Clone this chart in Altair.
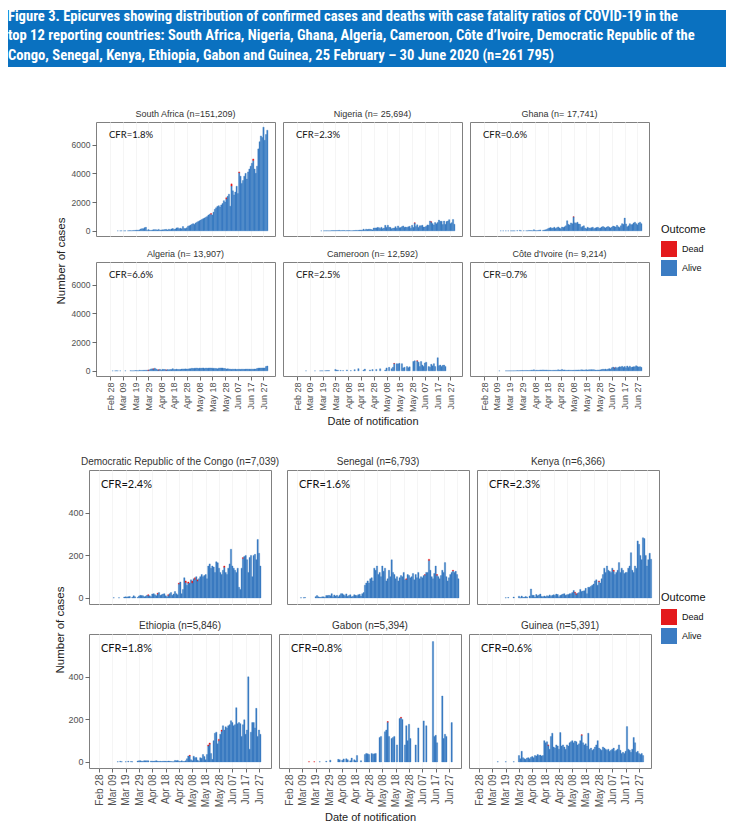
import altair as alt
import pandas as pd

BLUE = "#3b7cc3"
RED = "#e41a1c"
HEAD_BLUE = "#0a71c0"
FONT = "Liberation Sans"
HEAD_FONT = "Liberation Sans Narrow, Arial Narrow, Roboto Condensed, Lato, sans-serif"
CFR_FONT = "Lato"
AXCOL = "#505050"
TKCOL = "#444444"
GRID = "#f5f5f5"

TITLE_LINES = [
    "Figure 3. Epicurves showing distribution of confirmed cases and deaths with case fatality ratios of COVID-19 in the",
    "top 12 reporting countries: South Africa, Nigeria, Ghana, Algeria, Cameroon, Côte d\u2019Ivoire, Democratic Republic of the",
    "Congo, Senegal, Kenya, Ethiopia, Gabon and Guinea, 25 February \u2013 30 June 2020 (n=261 795)",
]

TICK_DATES = ["2020-02-28", "2020-03-09", "2020-03-19", "2020-03-29", "2020-04-08",
              "2020-04-18", "2020-04-28", "2020-05-08", "2020-05-18", "2020-05-28",
              "2020-06-07", "2020-06-17", "2020-06-27"]

OUTCOMES = ["Dead", "Alive"]

# ---------------- daily confirmed cases (total) ----------------
SA_START = "2020-03-05"
SA_CASES = [1, 0, 1, 4, 0, 4, 3, 0, 8, 14, 13,
            11, 23, 30, 34, 52, 38, 66, 128, 152, 150, 218, 243, 17, 87, 47, 26,
            50, 80, 80, 75, 60, 100, 40, 60, 70, 70, 90, 100, 60, 110, 70, 130, 160, 100, 120, 200,
            210, 150, 180, 140, 300, 170, 160, 210, 320, 350,
            400, 450, 500, 450, 550, 600, 650, 700, 750, 800, 850, 900, 950, 1000, 1100, 1150, 1200, 1100, 1300, 1500,
            1600, 1700, 1750, 1650, 1800, 1900, 2100, 2000, 2300, 2400, 2550,
            1716, 3267, 2782, 2500, 2700, 3100, 2594, 4100, 3800, 3300, 3500, 3800, 4000, 3600, 4100, 4300, 4500, 4700, 5000, 4300,
            4000, 4500, 5700, 6200, 6600, 6500, 7210, 6300, 6700, 7000]
SA_DEATHS = {"2020-05-17": 40, "2020-05-29": 80, "2020-06-02": 150, "2020-06-08": 60, "2020-06-19": 100}

NG_START = "2020-03-18"
NG_CASES = [1, 0, 4, 10, 5, 10, 5, 7, 14, 19, 16, 15, 20, 24,
            35, 10, 20, 25, 22, 10, 20, 16, 20, 13, 13, 18, 20, 34, 30, 35, 49, 51, 38, 117,
            48, 117, 91, 108, 114, 87, 64, 195, 196, 204,
            238, 220, 170, 245, 148, 195, 381, 239, 386, 248, 242, 146, 184, 194, 288, 176, 338, 216, 226, 284,
            339, 245, 265, 229, 276, 313, 182, 387, 241, 553, 307,
            416, 241, 350, 348, 389, 260, 260, 315, 409, 389, 681, 627, 501, 403, 573, 490, 587, 745, 661, 667,
            436, 675, 452, 649, 684, 779, 500, 566, 790, 460]
NG_DEATHS = {"2020-05-30": 15, "2020-06-12": 20}

GH_START = "2020-03-12"
GH_CASES = [2, 0, 4, 0, 1, 0, 2, 0, 5, 3, 3, 3, 0, 15, 0, 39, 4, 0, 11, 0,
            10, 5, 30, 20, 15, 10, 80, 20, 10, 20, 40, 60, 0, 30, 50, 70, 100, 150, 190, 230,
            180, 200, 250, 160, 220, 270, 200, 150, 260, 230,
            280, 350, 700, 450, 400, 550, 500, 980, 560, 520, 600, 480, 450, 250, 300, 350, 200, 150, 250, 200,
            180, 220, 250, 150, 200, 230, 250, 180, 200, 260, 300,
            250, 200, 260, 300, 250, 200, 260, 330, 300, 260, 380, 280, 230, 350, 500, 450, 885, 480, 280, 350,
            500, 420, 450, 550, 600, 500, 420, 550, 600, 500]
GH_DEATHS = {"2020-05-08": 10}

DZ_START = "2020-03-01"
DZ_CASES = [1, 0, 2, 7, 5, 0, 5, 0, 0, 0, 4, 0, 0, 0, 11, 6, 6, 12, 22, 15,
            8, 40, 30, 29, 34, 38, 43, 45, 57, 73, 132,
            139, 139, 185, 132, 80, 69, 103, 45, 104, 95, 94, 64, 89, 69, 87, 95, 150, 94, 89, 116,
            93, 99, 97, 120, 129, 123, 134, 122, 126, 139,
            148, 179, 159, 179, 185, 190, 165, 189, 174, 189, 198, 168, 190, 176, 192, 196, 193, 185, 176, 169,
            165, 140, 186, 190, 197, 196, 168, 160, 127, 140, 127,
            113, 104, 117, 107, 118, 98, 105, 109, 102, 111, 112, 102, 117, 119, 116, 117, 114, 117, 116, 125,
            119, 165, 187, 193, 194, 198, 198, 193, 305, 336]
DZ_DEATHS = {"2020-03-29": 20, "2020-04-02": 25, "2020-04-06": 20, "2020-04-12": 15}

CM_START = "2020-03-06"
CM_CASES = [1, 0, 0, 0, 0, 0, 0, 1, 0, 0, 0, 3, 5, 3, 0, 13, 12, 20, 16, 0, 0, 0, 0, 96, 50, 40,
            0, 30, 0, 20, 0, 0, 60, 0, 0, 15, 0, 0, 80, 0, 0, 150, 0, 0, 0, 50,
            120, 0, 0, 0, 60, 0, 90, 0, 0, 100,
            0, 0, 140, 0, 0, 0, 60, 200, 0, 240, 0, 150, 250, 520, 0, 500, 480, 520, 0, 500,
            200, 250, 0, 300, 220, 280, 0, 0, 650, 700, 0,
            700, 600, 300, 650, 400, 300, 550, 600, 0, 300, 250, 450, 350, 500, 300, 0, 910, 350, 400, 300,
            380, 400, 300]
CM_DEATHS = {"2020-05-14": 15, "2020-06-01": 20}

CI_START = "2020-03-11"
CI_CASES = [1, 0, 0, 0, 0, 1, 3, 1, 3, 5, 5, 3, 7, 12, 18, 9, 16, 20, 28, 16, 25,
            25, 22, 22, 29, 43, 43, 72, 26, 43, 36, 35, 54, 50, 64, 52, 48, 54, 41, 41, 35,
            29, 37, 36, 42, 38, 71, 48, 57, 98, 52,
            60, 40, 35, 48, 44, 37, 33, 40, 45, 55, 50, 60, 47, 68, 66, 54, 64, 73, 59, 68,
            71, 80, 73, 74, 52, 41, 59, 56, 68, 88, 111,
            99, 121, 81, 125, 150, 116, 211, 260, 199, 256, 175, 241, 285, 271, 313, 248, 300, 210, 335, 240,
            325, 232, 268, 289, 275, 353, 300, 260, 290, 240]
CI_DEATHS = {"2020-06-09": 5}

CD_START = "2020-03-10"
CD_CASES = [1, 0, 0, 0, 1, 0, 0, 0, 4, 5, 4, 6, 7, 0, 3, 10, 5, 0, 2, 9, 12, 11,
            10, 5, 8, 12, 15, 10, 6, 18, 20, 15, 10, 22, 25, 12, 15, 18, 20, 10, 5, 15,
            20, 25, 12, 18, 30, 20, 15, 70, 75, 20,
            40, 95, 80, 60, 75, 70, 85, 80, 90, 95, 100, 85, 90, 100, 110, 100, 105, 110, 90, 150,
            160, 140, 150, 145, 120, 170, 165, 140, 120, 110, 130,
            150, 120, 110, 140, 160, 229, 150, 140, 130, 120, 140, 50, 40, 140, 190, 195, 200, 180, 120, 190,
            200, 100, 200, 205, 180, 275, 210, 150]
CD_DEATHS = {"2020-04-05": 3, "2020-04-12": 4, "2020-04-20": 3, "2020-04-28": 5, "2020-05-03": 8,
             "2020-05-05": 6, "2020-05-08": 10, "2020-05-10": 8, "2020-05-12": 6, "2020-06-01": 6,
             "2020-06-15": 5}

SN_START = "2020-03-02"
SN_CASES = [1, 0, 1, 2, 0, 0, 0, 0, 0, 0, 0, 6, 11, 5, 3, 3, 5, 5, 2, 11,
            11, 12, 10, 20, 6, 14, 9, 12, 6, 13,
            20, 20, 15, 10, 19, 8, 11, 15, 5, 8, 15, 12, 10, 15, 17, 9, 20, 25, 60, 70,
            80, 70, 90, 95, 80, 140, 130, 150, 110, 120,
            100, 150, 125, 140, 80, 90, 130, 100, 179, 120, 110, 90, 100, 80, 95, 105, 100, 120, 85, 90,
            110, 105, 95, 100, 115, 85, 110, 95, 120, 90, 100,
            95, 105, 110, 120, 120, 182, 130, 100, 90, 115, 150, 110, 100, 90, 105, 130, 120, 166, 100, 80,
            95, 110, 120, 130, 120, 125, 110, 90]
SN_DEATHS = {"2020-05-20": 3, "2020-06-03": 3, "2020-06-06": 6, "2020-06-12": 3, "2020-06-24": 3}

KE_START = "2020-03-13"
KE_CASES = [1, 0, 2, 0, 0, 0, 4, 0, 0, 0, 8, 1, 9, 3, 3, 7, 4, 0, 9,
            42, 13, 12, 4, 16, 10, 14, 18, 7, 5, 9, 6, 10, 8, 14, 8, 12, 15, 11, 18,
            16, 6, 12, 15, 18, 20, 12, 15, 16, 20,
            20, 25, 35, 27, 20, 22, 25, 40, 30, 32, 34, 45, 20, 50, 50, 55, 60, 65, 80, 85,
            60, 80, 70, 90, 110, 140, 120, 150, 130, 125, 120,
            140, 130, 110, 120, 130, 166, 120, 140, 130, 115, 120, 120, 140, 150, 213, 130, 120, 150, 140, 268,
            252, 200, 180, 283, 279, 200, 150, 180, 210, 182]
KE_DEATHS = {"2020-05-04": 3, "2020-05-05": 4, "2020-05-22": 3, "2020-06-02": 4}

ET_START = "2020-03-13"
ET_CASES = [1, 0, 3, 1, 0, 0, 1, 0, 3, 0, 2, 1, 0, 0, 0, 4, 5, 6, 3,
            3, 6, 5, 5, 5, 0, 4, 3, 3, 4, 6, 3, 2, 3, 2, 3, 3, 3, 2, 4,
            3, 2, 1, 1, 7, 6, 7, 3, 2, 5,
            2, 2, 5, 15, 28, 31, 10, 6, 27, 20, 21, 8, 2, 20, 17, 35, 25, 10, 35, 80,
            89, 40, 12, 100, 135, 140, 85, 107, 130, 150, 170,
            150, 165, 160, 170, 175, 194, 185, 170, 175, 255, 180, 185, 180, 120, 175, 198, 130, 150, 400, 60,
            140, 185, 185, 160, 252, 120, 150, 130]
ET_DEATHS = {"2020-05-06": 3, "2020-05-20": 5, "2020-05-21": 6, "2020-05-28": 8, "2020-05-30": 6}

GA_START = "2020-03-12"
GA_CASES = [0, 0, 1, 0, 0, 0, 1, 0, 0, 0, 1, 0, 0, 0, 0, 3, 0, 0, 8, 0,
            0, 0, 0, 0, 12, 10, 0, 8, 14, 0, 15, 10, 0, 5, 18, 0, 10, 5, 30, 0,
            0, 6, 0, 0, 35, 40, 38, 35, 0, 40,
            36, 38, 40, 0, 0, 115, 120, 0, 0, 142, 150, 190, 120, 0, 110, 115, 120, 0, 80, 0,
            204, 210, 200, 0, 80, 170, 100, 177, 110, 0, 0,
            0, 80, 0, 160, 0, 0, 0, 193, 0, 170, 0, 0, 0, 0, 566, 120, 125, 90, 0, 0,
            0, 310, 110, 130, 120, 0, 0, 0, 185, 0]
GA_DEATHS = {"2020-03-14": 1, "2020-03-18": 1, "2020-05-12": 3, "2020-05-22": 3}

GN_START = "2020-03-13"
GN_CASES = [1, 0, 0, 0, 0, 0, 1, 0, 0, 0, 0, 0, 1, 0, 0, 0, 30, 15, 50,
            20, 15, 12, 18, 20, 15, 22, 25, 20, 30, 28, 35, 30, 32, 28, 30, 100, 90, 95, 80,
            60, 120, 135, 70, 65, 80, 75, 60, 138, 75,
            80, 70, 60, 80, 75, 90, 95, 100, 90, 98, 95, 80, 85, 100, 128, 90, 80, 85, 75, 135,
            60, 65, 55, 60, 70, 80, 100, 65, 60, 55, 70,
            65, 60, 55, 60, 50, 55, 60, 65, 50, 55, 60, 80, 55, 40, 45, 40, 50, 166, 60, 55,
            45, 60, 115, 90, 45, 50, 40, 35, 40, 30]
GN_DEATHS = {"2020-04-20": 2, "2020-05-15": 2}

TOP_TITLES = ["South Africa (n=151,209)", "Nigeria (n= 25,694)", "Ghana (n= 17,741)",
              "Algeria (n= 13,907)", "Cameroon (n= 12,592)", "Côte d'Ivoire (n=  9,214)"]
TOP_CFR = ["CFR=1.8%", "CFR=2.3%", "CFR=0.6%", "CFR=6.6%", "CFR=2.5%", "CFR=0.7%"]
BOT_TITLES = ["Democratic Republic of the Congo (n=7,039)", "Senegal (n=6,793)", "Kenya (n=6,366)",
              "Ethiopia (n=5,846)", "Gabon (n=5,394)", "Guinea (n=5,391)"]
BOT_CFR = ["CFR=2.4%", "CFR=1.6%", "CFR=2.3%", "CFR=1.8%", "CFR=0.8%", "CFR=0.6%"]

TOP_SERIES = [(SA_START, SA_CASES, SA_DEATHS), (NG_START, NG_CASES, NG_DEATHS), (GH_START, GH_CASES, GH_DEATHS),
              (DZ_START, DZ_CASES, DZ_DEATHS), (CM_START, CM_CASES, CM_DEATHS), (CI_START, CI_CASES, CI_DEATHS)]
BOT_SERIES = [(CD_START, CD_CASES, CD_DEATHS), (SN_START, SN_CASES, SN_DEATHS), (KE_START, KE_CASES, KE_DEATHS),
              (ET_START, ET_CASES, ET_DEATHS), (GA_START, GA_CASES, GA_DEATHS), (GN_START, GN_CASES, GN_DEATHS)]


def ms(s):
    return int(pd.Timestamp(s).value // 10**6)


TICK_MS = [ms(d + "T12:00") for d in TICK_DATES]
LABEL_EXPR = "utcFormat(datum.value, '%b %d')"


def build(start, cases, deaths):
    d0 = pd.Timestamp(start)
    rows = []
    for i, v in enumerate(cases):
        day = d0 + pd.Timedelta(days=i)
        ds = day.strftime("%Y-%m-%d")
        dd = deaths.get(ds, 0)
        t0 = ms(day)
        t1 = ms(day + pd.Timedelta(days=1))
        rows.append({"t0": t0, "t1": t1, "Outcome": "Alive", "n": v - dd, "ord": 0})
        rows.append({"t0": t0, "t1": t1, "Outcome": "Dead", "n": dd, "ord": 1})
    return pd.DataFrame(rows)


def panel(series, title, cfr, g, row, col):
    df = build(*series)
    if row == 1:
        xaxis = alt.Axis(values=TICK_MS, labelExpr=LABEL_EXPR, labelAngle=270,
                         labelFontSize=g["xfs"], labelColor=AXCOL, labelFont=FONT,
                         tickColor=TKCOL, tickSize=4, tickWidth=0.8, labelPadding=2,
                         domain=False, grid=True, gridColor=GRID,
                         titleFontSize=11, titleFontWeight="normal", titleColor="#222222",
                         titleFont=FONT, titlePadding=g["xtp"])
    else:
        xaxis = alt.Axis(values=TICK_MS, labels=False, ticks=False, domain=False, grid=True,
                         gridColor=GRID, minExtent=0, maxExtent=0)
    xtitle = "Date of notification" if (row == 1 and col == 1) else None
    x = alt.X("t0:T", title=xtitle,
              scale=alt.Scale(type="utc", domain=g["xdom"], nice=False), axis=xaxis)
    if col == 0:
        yaxis = alt.Axis(values=g["yticks"], format="d", labelFontSize=g["yfs"], labelColor=AXCOL,
                         labelFont=FONT, tickColor=TKCOL, tickSize=4, tickWidth=0.8, labelPadding=2,
                         domain=False, grid=False, minExtent=g["yext"], maxExtent=g["yext"])
    else:
        yaxis = None
    y = alt.Y("y0:Q", title=None,
              scale=alt.Scale(domain=g["ydom"], nice=False, zero=False), axis=yaxis)
    cscale = alt.Scale(domain=OUTCOMES, range=[RED, BLUE])
    color = alt.Color("Outcome:N", scale=cscale,
                      legend=alt.Legend(orient="none", legendX=g["lx"], legendY=g["ly"],
                                        title="Outcome", titleFontSize=11, titleFontWeight="normal",
                                        titleColor="#111111", titleFont=FONT, titlePadding=6,
                                        labelFontSize=9, labelColor="#111111", labelFont=FONT,
                                        symbolType="square", symbolSize=256, symbolStrokeWidth=0,
                                        symbolOpacity=1, rowPadding=3, labelOffset=5, padding=0))
    bars = alt.Chart(df).transform_stack(
        stack="n", groupby=["t0"], as_=["y0", "y1"], sort=[alt.SortField("ord", order="ascending")]
    ).transform_filter("datum.n > 0").mark_rect(strokeWidth=0.35).encode(
        x=x, x2="t1:T", y=y, y2="y1:Q", color=color,
        stroke=alt.Stroke("Outcome:N", scale=cscale, legend=None))
    txt = alt.Chart(pd.DataFrame({"t": [cfr]})).mark_text(
        align="left", baseline="middle", font=CFR_FONT, fontSize=g["cfs"], color="#111111"
    ).encode(text="t:N", x=alt.value(g["cx"]), y=alt.value(g["cy"]))
    return alt.layer(bars, txt).properties(
        width=g["w"], height=g["h"],
        title=alt.TitleParams(title, fontSize=g["tfs"], font=FONT, fontWeight="normal",
                              color="#333333", offset=g["toff"]))


def group(series_list, titles, cfrs, g):
    panels = [panel(s, t, c, g, i // 3, i % 3) for i, (s, t, c) in enumerate(zip(series_list, titles, cfrs))]
    r1 = alt.hconcat(*panels[:3], spacing=g["hsp"])
    r2 = alt.hconcat(*panels[3:], spacing=g["hsp"])
    grid = alt.vconcat(r1, r2, spacing=g["vsp"])
    yt = alt.Chart(pd.DataFrame({"t": ["Number of cases"]})).mark_text(
        angle=270, align="center", baseline="middle", font=FONT, fontSize=11.5, color="#222222"
    ).encode(text="t:N", x=alt.value(g["ytx"]), y=alt.value(g["yty"])).properties(
        width=g["ytw"], height=g["yth"], view=alt.ViewBackground(strokeWidth=0))
    return alt.hconcat(yt, grid, spacing=0)


G_TOP = dict(xdom=[ms("2020-02-17T12:00"), ms("2020-07-06T12:00")], ydom=[-360, 7570],
             yticks=[0, 2000, 4000, 6000], w=179, h=114, hsp=6, vsp=12, tfs=9, toff=3,
             yfs=8.5, xfs=9, yext=24, cfs=9.5, cx=13, cy=13, ytw=62, ytx=53.5, yth=250, yty=139,
             xtp=4, lx=653, ly=102)
G_BOT = dict(xdom=[ms("2020-02-21T00:00"), ms("2020-07-06T12:00")], ydom=[-28.6, 601.6],
             yticks=[0, 200, 400], w=182, h=134, hsp=6, vsp=15, tfs=10, toff=3,
             yfs=9, xfs=10, yext=20, cfs=11, cx=12, cy=15, ytw=59, ytx=52.5, yth=300, yty=160,
             xtp=5, lx=653, ly=122)

g1 = group(TOP_SERIES, TOP_TITLES, TOP_CFR, G_TOP)
g2 = group(BOT_SERIES, BOT_TITLES, BOT_CFR, G_BOT)

hdr_rect = alt.Chart(pd.DataFrame({"a": [0]})).mark_rect(color=HEAD_BLUE).encode(
    x=alt.value(0), x2=alt.value(718), y=alt.value(0), y2=alt.value(57))
hdr_text = alt.Chart(pd.DataFrame({"t": ["\n".join(TITLE_LINES)]})).mark_text(
    align="left", baseline="top", color="white", font=HEAD_FONT, fontSize=14.6, fontWeight="bold",
    lineBreak="\n", lineHeight=19.5
).encode(text="t:N", x=alt.value(0), y=alt.value(-1.5))
header = alt.layer(hdr_rect, hdr_text).properties(width=718, height=57,
                                                 view=alt.ViewBackground(strokeWidth=0))

body = alt.vconcat(g1, g2, spacing=28).resolve_scale(color="independent", stroke="independent")
chart = alt.vconcat(header, body, spacing=42).resolve_scale(
    color="independent", stroke="independent").properties(
    padding=0, background="white"
).configure(font=FONT).configure_view(stroke="#808080", strokeWidth=1)

chart.save("out.html", embed_options={"renderer": "svg", "actions": False})
